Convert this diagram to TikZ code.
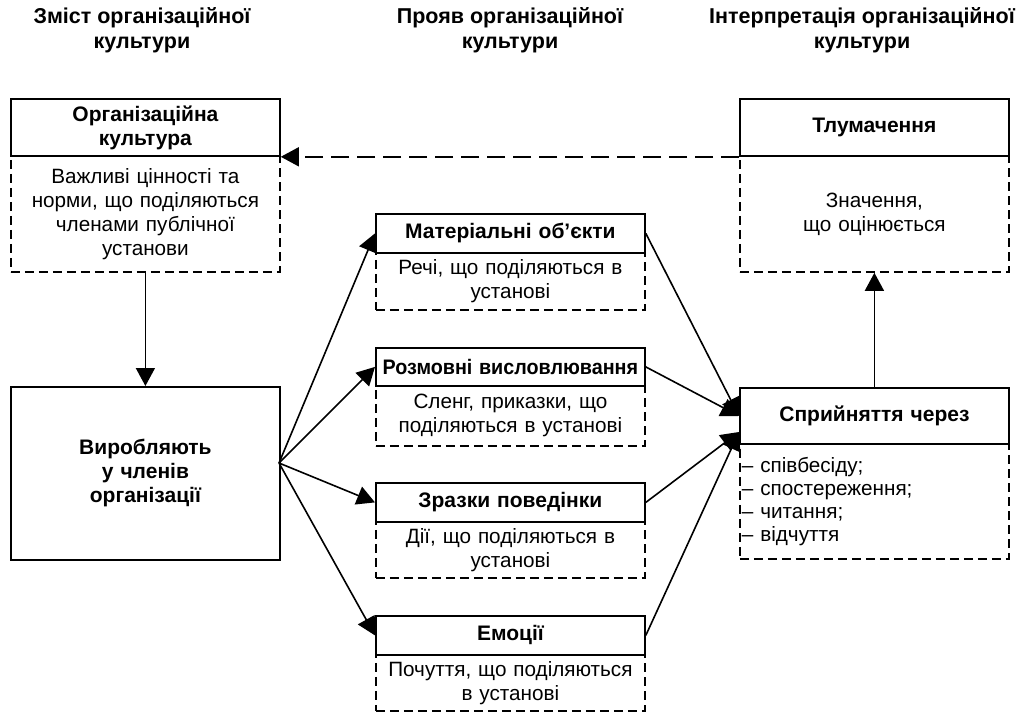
\documentclass[tikz,border=0pt]{standalone}
\usepackage{fontspec}
\usepackage{graphicx}
\setmainfont{Liberation Sans}
\usetikzlibrary{arrows.meta,calc}
\begin{document}
\begin{tikzpicture}[x=1pt,y=-1pt,
  tbox/.style={draw, line width=1.8pt, anchor=north west, minimum width=269pt,
    text width=263pt, inner sep=3pt, align=center,
    font=\fontsize{21}{24}\selectfont\bfseries},
  dbox/.style={draw, line width=1.8pt, dash pattern=on 9pt off 5pt, anchor=north west,
    minimum width=269pt, text width=263pt, inner sep=3pt, align=center,
    font=\fontsize{20.7}{24}\selectfont},
  hdr/.style={align=center, inner sep=0pt, font=\fontsize{21.5}{25}\selectfont\bfseries},
  conn/.style={line width=1.6pt, -{Triangle[length=18pt,width=19pt]}},
  dconn/.style={conn, dash pattern=on 18pt off 8pt}
]
\useasboundingbox (0,0) rectangle (1025,715);

% headers
\node[hdr] (h1) at (142,30) {Зміст організаційної\\культури};
\node[hdr] (h2) at (510,30) {Прояв організаційної\\культури};
\node[hdr] (h3) at (862,30) {Інтерпретація організаційної\\культури};

% left column
\node[dbox, minimum height=116pt] (orgD) at (10,155) {Важливі цінності та\\норми, що поділяються\\членами публічної\\установи};
\node[tbox, minimum height=57pt] (orgT) at (10,98) {Організаційна\\культура};
\node[tbox, minimum height=173pt] (vyr) at (10,386) {Виробляють\\у членів\\організації};

% middle column
\node[dbox, minimum height=57pt] (m1D) at (375,252) {Речі, що поділяються в\\установі};
\node[tbox, minimum height=39pt] (m1T) at (375,213) {Матеріальні об’єкти};
\node[dbox, minimum height=60pt] (m2D) at (375,385) {Сленг, приказки, що\\поділяються в установі};
\node[tbox, minimum height=38pt] (m2T) at (375,347) {\scalebox{0.94}[1]{Розмовні висловлювання}};
\node[dbox, minimum height=56pt] (m3D) at (375,521) {Дії, що поділяються в\\установі};
\node[tbox, minimum height=39pt] (m3T) at (375,482) {Зразки поведінки};
\node[dbox, minimum height=56pt] (m4D) at (375,654) {Почуття, що поділяються\\в установі};
\node[tbox, minimum height=39pt] (m4T) at (375,615) {Емоції};

% right column
\node[dbox, minimum height=116pt] (tlD) at (739,155) {Значення,\\що оцінюється};
\node[tbox, minimum height=57pt] (tlT) at (739,98) {Тлумачення};
\node[dbox, minimum height=115pt, align=left, text width=265pt, inner xsep=2pt,
  font=\fontsize{20.7}{23}\selectfont] (sD) at (739,443) {– співбесіду;\\– спостереження;\\– читання;\\– відчуття};
\node[tbox, minimum height=56pt] (sT) at (739,387) {Сприйняття через};

% coordinates
\coordinate (fan) at (279,463);
\coordinate (s1) at (739,416);
\coordinate (s2) at (739,432);

% connectors
\draw[dconn] (tlT.south west) -- (orgT.south east);
\draw[conn] (orgD.south) -- (vyr.north);
\draw[conn] (fan) -- (m1T.west);
\draw[conn] (fan) -- (m2T.west);
\draw[conn] (fan) -- (m3T.west);
\draw[conn] (fan) -- (m4T.west);
\draw[conn] (m1T.east) -- (s1);
\draw[conn] (m2T.east) -- (s1);
\draw[conn] (m3T.east) -- (s2);
\draw[conn] (m4T.east) -- (s2);
\draw[conn] (sT.north) -- (tlD.south);
\end{tikzpicture}
\end{document}
